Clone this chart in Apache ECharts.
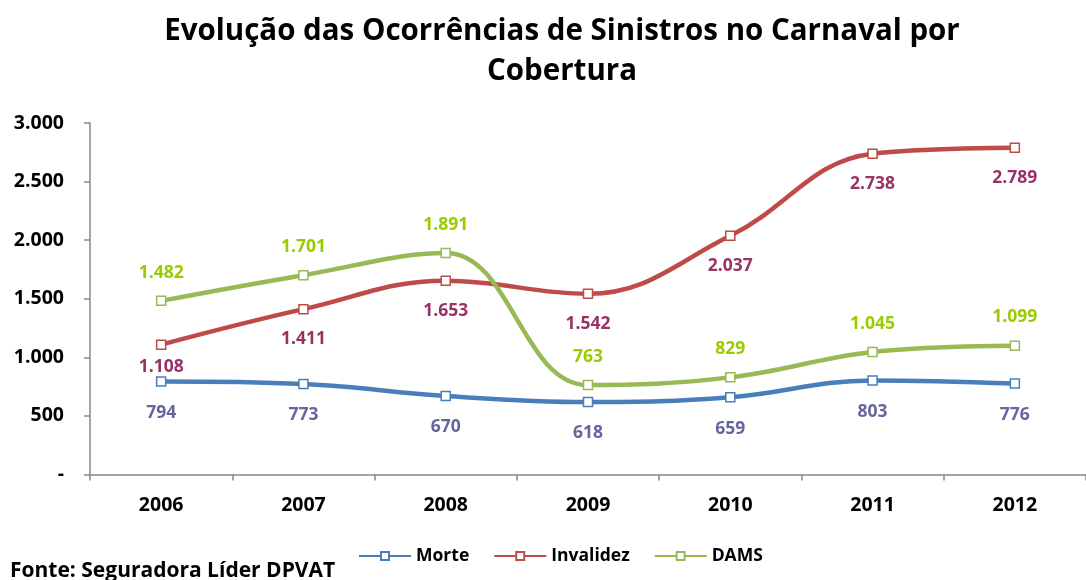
<!DOCTYPE html>
<html>
<head>
<meta charset="utf-8">
<script src="https://cdn.jsdelivr.net/npm/echarts@6/dist/echarts.min.js"></script>
<style>
html,body{margin:0;padding:0;background:#fff;}
#chart{width:1086px;height:580px;}
</style>
</head>
<body>
<div id="chart"></div>
<script>
const categories = ['2006','2007','2008','2009','2010','2011','2012'];
const morte = [794, 773, 670, 618, 659, 803, 776];
const invalidez = [1108, 1411, 1653, 1542, 2037, 2738, 2789];
const dams = [1482, 1701, 1891, 763, 829, 1045, 1099];
const seriesNames = ['Morte', 'Invalidez', 'DAMS'];
const titleText = 'Evolução das Ocorrências de Sinistros no Carnaval por\nCobertura';
const sourceText = 'Fonte: Seguradora Líder DPVAT';

const FONT = '"Open Sans", Lato, sans-serif';
const fmt = v => {
  if (v === 0) return '-';
  return String(v).replace(/\B(?=(\d{3})+(?!\d))/g, '.');
};

function mkSeries(name, data, color, labelColor, pos, dist) {
  return {
    name: name,
    type: 'line',
    data: data.map((v, i) => {
      const o = { value: v };
      if (name === 'Invalidez' && i === 0) o.label = { distance: 8 };
      return o;
    }),
    smooth: 0.4,
    symbol: 'rect',
    symbolSize: 9,
    showAllSymbol: true,
    lineStyle: { color: color, width: 4.5 },
    itemStyle: { color: '#fff', borderColor: color, borderWidth: 1.5 },
    label: {
      show: true,
      position: pos,
      distance: dist,
      formatter: p => fmt(p.value),
      color: labelColor,
      fontFamily: FONT,
      fontWeight: 'bold',
      fontSize: 17.5
    },
    emphasis: { disabled: true },
    z: name === 'DAMS' ? 3 : (name === 'Invalidez' ? 2 : 1)
  };
}

const chart = echarts.init(document.getElementById('chart'), null, { renderer: 'canvas' });
chart.setOption({
  animation: false,
  backgroundColor: '#fff',
  title: [{
    text: titleText,
    left: 557,
    top: 7,
    textAlign: 'center',
    textStyle: { fontFamily: FONT, fontWeight: 'bold', fontSize: 29.5, lineHeight: 40, color: '#000' }
  }, {
    text: sourceText,
    left: 5,
    top: 556,
    textStyle: { fontFamily: FONT, fontWeight: 'bold', fontSize: 21, color: '#000' }
  }],
  legend: {
    data: seriesNames,
    left: 353,
    top: 542,
    itemWidth: 52,
    itemHeight: 10,
    itemGap: 24,
    textStyle: { fontFamily: FONT, fontWeight: 'bold', fontSize: 17.5, color: '#000' }
  },
  grid: { left: 90, top: 123, width: 1006, height: 351.5, containLabel: false },
  xAxis: {
    type: 'category',
    data: categories,
    boundaryGap: true,
    axisLine: { lineStyle: { color: '#888', width: 1.5 } },
    axisTick: { show: true, length: 6, lineStyle: { color: '#888', width: 1.5 } },
    axisLabel: { fontFamily: FONT, fontWeight: 'bold', fontSize: 19.5, color: '#000', margin: 21 },
    splitLine: { show: false }
  },
  yAxis: {
    type: 'value',
    min: 0,
    max: 3000,
    interval: 500,
    axisLine: { show: true, lineStyle: { color: '#888', width: 1.5 } },
    axisTick: { show: true, length: 6, inside: false, lineStyle: { color: '#888', width: 1.5 } },
    axisLabel: { fontFamily: FONT, fontWeight: 'bold', fontSize: 19.5, color: '#000', margin: 26, formatter: fmt },
    splitLine: { show: false }
  },
  series: [
    mkSeries('Morte', morte, '#4a7ebb', '#66669e', 'bottom', 17),
    mkSeries('Invalidez', invalidez, '#be4b48', '#993366', 'bottom', 16),
    mkSeries('DAMS', dams, '#98b954', '#99cc00', 'top', 14)
  ]
});
</script>
</body>
</html>
